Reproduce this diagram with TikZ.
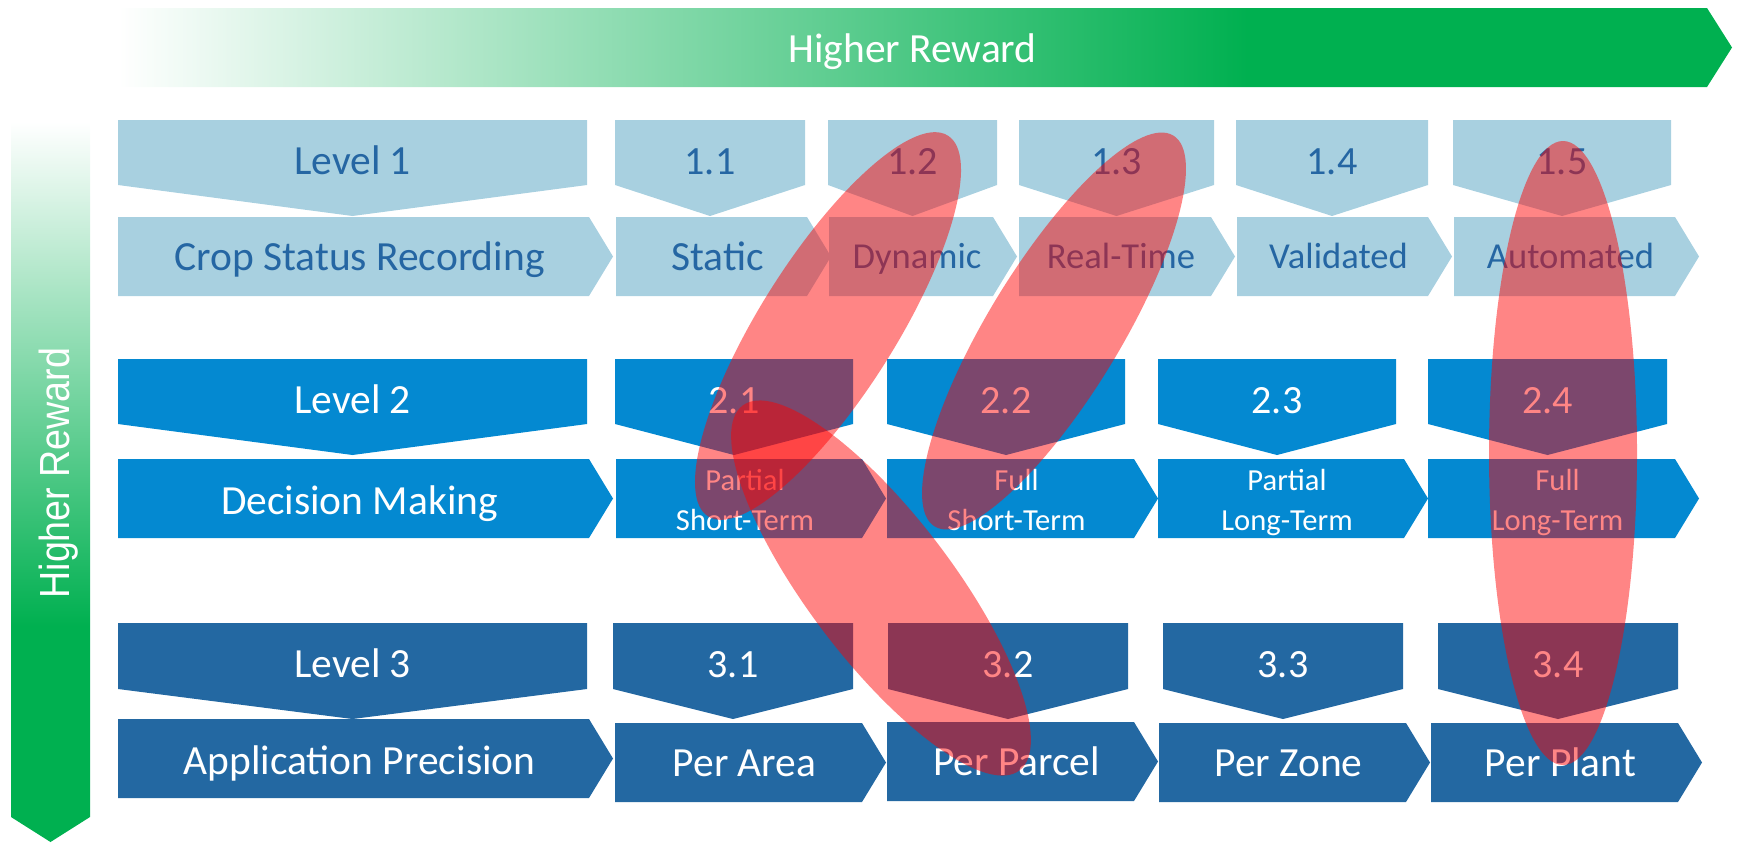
\documentclass[tikz,border=0pt]{standalone}
\usepackage{fontspec}
\setmainfont{Carlito}
\newfontfamily\arialish{Liberation Sans}
\definecolor{paleblue}{HTML}{A8D0E0}
\definecolor{midblue}{HTML}{0489D1}
\definecolor{deepblue}{HTML}{2368A2}
\definecolor{inkblue}{HTML}{2566A3}
\definecolor{rewardgreen}{HTML}{00B050}
\pgfdeclarehorizontalshading{rewardh}{100bp}{color(0bp)=(white); color(25bp)=(white); color(60bp)=(rewardgreen); color(100bp)=(rewardgreen)}
\pgfdeclareverticalshading{rewardv}{100bp}{color(0bp)=(rewardgreen); color(40bp)=(rewardgreen); color(75bp)=(white); color(100bp)=(white)}
\begin{document}
\begin{tikzpicture}[x=0.1mm,y=-0.1mm,
    rowa/.style={fill=paleblue},
    rowb/.style={fill=midblue},
    rowc/.style={fill=deepblue},
    txt/.style={anchor=base,inner sep=0pt,font=\fontsize{11.8}{14}\selectfont},
    num/.style={anchor=base,inner sep=0pt,font=\fontsize{11.4}{14}\selectfont},
    sml/.style={anchor=base,inner sep=0pt,font=\fontsize{10.4}{12}\selectfont},
    sub/.style={anchor=base,inner sep=0pt,font=\fontsize{8.7}{10}\selectfont},
    hl/.style={fill=red,opacity=.48}]
    \useasboundingbox (0,0) rectangle (1737,842);
    % reward arrows
    \shade[shading=rewardh] (118,8) -- (1707,8) -- (1732,47.5) -- (1707,87) -- (118,87) -- cycle;
    \node[txt,white] (hrew) at (912.5,62) {Higher Reward};
    \shade[shading=rewardv] (11,122) -- (90,122) -- (90,817) -- (50.5,842) -- (11,817) -- cycle;
    \node[anchor=base,inner sep=0pt,white,rotate=90,font=\arialish\fontsize{10.7}{13}\selectfont] (vrew) at (69,473) {\scalebox{1}[1.12]{Higher Reward}};
    % level 1
    \fill[rowa] (118,120) -- (587,120) -- (587,185) -- (352.5,216) -- (118,185) -- cycle;
    \fill[rowa] (615,120) -- (805,120) -- (805,185) -- (710,216) -- (615,185) -- cycle;
    \fill[rowa] (828,120) -- (997,120) -- (997,185) -- (912.5,216) -- (828,185) -- cycle;
    \fill[rowa] (1019,120) -- (1214,120) -- (1214,185) -- (1116.5,216) -- (1019,185) -- cycle;
    \fill[rowa] (1236,120) -- (1428,120) -- (1428,185) -- (1332,216) -- (1236,185) -- cycle;
    \fill[rowa] (1453,120) -- (1671,120) -- (1671,185) -- (1562,216) -- (1453,185) -- cycle;
    \fill[rowa] (118,217) -- (589,217) -- (613,256.5) -- (589,296) -- (118,296) -- cycle;
    \fill[rowa] (616,217) -- (807,217) -- (831,256.5) -- (807,296) -- (616,296) -- cycle;
    \fill[rowa] (829,217) -- (993,217) -- (1017,256.5) -- (993,296) -- (829,296) -- cycle;
    \fill[rowa] (1019,217) -- (1211,217) -- (1235,256.5) -- (1211,296) -- (1019,296) -- cycle;
    \fill[rowa] (1237,217) -- (1428,217) -- (1452,256.5) -- (1428,296) -- (1237,296) -- cycle;
    \fill[rowa] (1454,217) -- (1675,217) -- (1699,256.5) -- (1675,296) -- (1454,296) -- cycle;
    \node[txt,inkblue] (lvl1) at (352.5,174) {Level 1};
    \node[num,inkblue] (n11) at (710,174) {1.1};
    \node[num,inkblue] (n12) at (912.5,174) {1.2};
    \node[num,inkblue] (n13) at (1116.5,174) {1.3};
    \node[num,inkblue] (n14) at (1332,174) {1.4};
    \node[num,inkblue] (n15) at (1562,174) {1.5};
    \node[txt,inkblue] (rec) at (359.5,270) {Crop Status Recording};
    \node[txt,inkblue] (stat) at (717.5,270) {Static};
    \node[sml,inkblue] (dyn) at (917,268) {Dynamic};
    \node[sml,inkblue] (rtime) at (1121,268) {Real-Time};
    \node[sml,inkblue] (valid) at (1338.5,268) {Validated};
    \node[sml,inkblue] (autom) at (1570.5,268) {Automated};
    % level 2
    \fill[rowb] (118,359) -- (587,359) -- (587,424) -- (352.5,455) -- (118,424) -- cycle;
    \fill[rowb] (615,359) -- (853,359) -- (853,424) -- (734,455) -- (615,424) -- cycle;
    \fill[rowb] (887,359) -- (1125,359) -- (1125,424) -- (1006,455) -- (887,424) -- cycle;
    \fill[rowb] (1158,359) -- (1396,359) -- (1396,424) -- (1277,455) -- (1158,424) -- cycle;
    \fill[rowb] (1428,359) -- (1667,359) -- (1667,424) -- (1547.5,455) -- (1428,424) -- cycle;
    \fill[rowb] (118,459) -- (589,459) -- (613,498.5) -- (589,538) -- (118,538) -- cycle;
    \fill[rowb] (616,459) -- (862,459) -- (886,498.5) -- (862,538) -- (616,538) -- cycle;
    \fill[rowb] (887,459) -- (1134,459) -- (1158,498.5) -- (1134,538) -- (887,538) -- cycle;
    \fill[rowb] (1158,459) -- (1404,459) -- (1428,498.5) -- (1404,538) -- (1158,538) -- cycle;
    \fill[rowb] (1428,459) -- (1675,459) -- (1699,498.5) -- (1675,538) -- (1428,538) -- cycle;
    \node[txt,white] (lvl2) at (352.5,413) {Level 2};
    \node[num,white] (n21) at (734,413) {2.1};
    \node[num,white] (n22) at (1006,413) {2.2};
    \node[num,white] (n23) at (1277,413) {2.3};
    \node[num,white] (n24) at (1547.5,413) {2.4};
    \node[txt,white] (dec) at (359.5,514) {Decision Making};
    \node[sub,white] (pst) at (745,490) {Partial};
    \node[sub,white] (pstb) at (745,530) {Short-Term};
    \node[sub,white] (fst) at (1016.5,490) {Full};
    \node[sub,white] (fstb) at (1016.5,530) {Short-Term};
    \node[sub,white] (plt) at (1287,490) {Partial};
    \node[sub,white] (pltb) at (1287,530) {Long-Term};
    \node[sub,white] (flt) at (1557.5,490) {Full};
    \node[sub,white] (fltb) at (1557.5,530) {Long-Term};
    % level 3
    \fill[rowc] (118,623) -- (587,623) -- (587,689) -- (352.5,719) -- (118,689) -- cycle;
    \fill[rowc] (613,623) -- (853,623) -- (853,689) -- (733,719) -- (613,689) -- cycle;
    \fill[rowc] (888,623) -- (1128,623) -- (1128,689) -- (1008,719) -- (888,689) -- cycle;
    \fill[rowc] (1163,623) -- (1403,623) -- (1403,689) -- (1283,719) -- (1163,689) -- cycle;
    \fill[rowc] (1438,623) -- (1678,623) -- (1678,689) -- (1558,719) -- (1438,689) -- cycle;
    \fill[rowc] (118,719) -- (589,719) -- (613,758.5) -- (589,798) -- (118,798) -- cycle;
    \fill[rowc] (615,723) -- (862,723) -- (886,762.5) -- (862,802) -- (615,802) -- cycle;
    \fill[rowc] (887,722) -- (1134,722) -- (1158,761.5) -- (1134,801) -- (887,801) -- cycle;
    \fill[rowc] (1159,723) -- (1406,723) -- (1430,762.5) -- (1406,802) -- (1159,802) -- cycle;
    \fill[rowc] (1431,723) -- (1678,723) -- (1702,762.5) -- (1678,802) -- (1431,802) -- cycle;
    \node[txt,white] (lvl3) at (352.5,677) {Level 3};
    \node[num,white] (n31) at (733,677) {3.1};
    \node[num,white] (n32) at (1008,677) {3.2};
    \node[num,white] (n33) at (1283,677) {3.3};
    \node[num,white] (n34) at (1558,677) {3.4};
    \node[txt,white] (appl) at (359.5,774) {Application Precision};
    \node[txt,white] (parea) at (744.5,776) {Per Area};
    \node[txt,white] (pparc) at (1016.5,775) {Per Parcel};
    \node[txt,white] (pzone) at (1288.5,776) {Per Zone};
    \node[txt,white] (pplant) at (1560.5,776) {Per Plant};
    % highlighted paths
    \fill[hl,rotate around={57.8:(828,326)}] (828,326) ellipse [x radius=225, y radius=68];
    \fill[hl,rotate around={58.6:(1054,331)}] (1054,331) ellipse [x radius=229, y radius=66];
    \fill[hl,rotate around={-52.8:(881,588)}] (881,588) ellipse [x radius=229, y radius=72];
    \fill[hl] (1563,453) ellipse [x radius=74, y radius=312];
\end{tikzpicture}
\end{document}
